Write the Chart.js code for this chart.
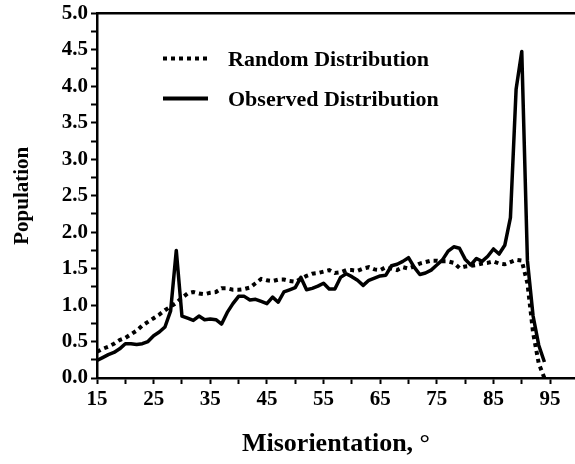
<!DOCTYPE html>
<html>
<head>
<meta charset="utf-8">
<script src="https://cdn.jsdelivr.net/npm/chart.js@4.4.0/dist/chart.umd.min.js"></script>
<style>
  html, body { margin: 0; padding: 0; background: #fff; }
  #wrap { width: 575px; height: 464px; position: relative; }
</style>
</head>
<body>
<div id="wrap"><canvas id="misChart"></canvas></div>
<script>
(function () {
    "use strict";

    // Data (misorientation in degrees, 1 degree bins)
    var angles = [];
    for (var a = 15; a <= 94; a++) angles.push(a);

    var randomDist = [
        0.36, 0.40, 0.43, 0.47, 0.52, 0.55, 0.60, 0.65, 0.72, 0.77,
        0.82, 0.87, 0.93, 0.98, 1.03, 1.10, 1.16, 1.18, 1.16, 1.15,
        1.17, 1.18, 1.23, 1.23, 1.21, 1.21, 1.22, 1.24, 1.30, 1.36,
        1.34, 1.33, 1.35, 1.35, 1.33, 1.32, 1.36, 1.40, 1.43, 1.44,
        1.46, 1.48, 1.44, 1.45, 1.48, 1.48, 1.47, 1.50, 1.52, 1.49,
        1.48, 1.52, 1.50, 1.48, 1.52, 1.50, 1.53, 1.57, 1.59, 1.61,
        1.61, 1.60, 1.60, 1.58, 1.51, 1.53, 1.54, 1.55, 1.57, 1.58,
        1.60, 1.57, 1.56, 1.59, 1.62, 1.61, 1.30, 0.62, 0.20, 0.00
    ];

    var observedDist = [
        0.24, 0.28, 0.32, 0.35, 0.40, 0.47, 0.47, 0.46, 0.47, 0.50,
        0.58, 0.63, 0.70, 0.92, 1.75, 0.85, 0.82, 0.79, 0.85, 0.80,
        0.81, 0.80, 0.74, 0.90, 1.02, 1.12, 1.12, 1.07, 1.08, 1.05,
        1.02, 1.11, 1.04, 1.18, 1.21, 1.24, 1.38, 1.21, 1.23, 1.26,
        1.30, 1.22, 1.22, 1.38, 1.43, 1.39, 1.34, 1.27, 1.34, 1.37,
        1.40, 1.41, 1.54, 1.56, 1.60, 1.65, 1.52, 1.42, 1.44, 1.48,
        1.55, 1.62, 1.74, 1.80, 1.78, 1.63, 1.55, 1.64, 1.60, 1.67,
        1.77, 1.70, 1.82, 2.20, 3.96, 4.48, 1.61, 0.85, 0.45, 0.22
    ];

    var seriesNames = ['Random Distribution', 'Observed Distribution'];
    var xTickLabels = [15, 25, 35, 45, 55, 65, 75, 85, 95];
    var yTickLabels = [0.0, 0.5, 1.0, 1.5, 2.0, 2.5, 3.0, 3.5, 4.0, 4.5, 5.0];

    var FONT = "'Liberation Serif', 'DejaVu Serif', serif";

    function toPoints(values) {
        return values.map(function (v, i) { return { x: angles[i], y: v }; });
    }

    // legend drawn inside the plot, like the original figure
    var insideLegend = {
        id: 'insideLegend',
        afterDraw: function (chart) {
            var ctx = chart.ctx, area = chart.chartArea;
            var x0 = area.left + 66, x1 = area.left + 111, tx = area.left + 131;
            var rows = [area.top + 45, area.top + 85];
            ctx.save();
            chart.data.datasets.forEach(function (ds, i) {
                var y = rows[i];
                ctx.beginPath();
                ctx.strokeStyle = ds.borderColor;
                ctx.lineWidth = 4;
                ctx.lineCap = 'butt';
                ctx.setLineDash(ds.borderDash || []);
                ctx.moveTo(x0, y);
                ctx.lineTo(x1, y);
                ctx.stroke();
                ctx.setLineDash([]);
                ctx.fillStyle = '#000';
                ctx.font = 'bold 22px ' + FONT;
                ctx.textBaseline = 'middle';
                ctx.fillText(ds.label, tx, y + 2);
            });
            ctx.restore();
        }
    };

    var ctx = document.getElementById('misChart').getContext('2d');
    var misChart = new Chart(ctx, {
        type: 'line',
        data: {
            datasets: [{
                label: seriesNames[0],
                data: toPoints(randomDist),
                borderColor: '#000',
                borderWidth: 4,
                borderDash: [4, 4],
                borderCapStyle: 'butt',
                pointRadius: 0,
                tension: 0
            }, {
                label: seriesNames[1],
                data: toPoints(observedDist),
                borderColor: '#000',
                borderWidth: 3.5,
                borderJoinStyle: 'round',
                pointRadius: 0,
                tension: 0
            }]
        },
        options: {
            responsive: true,
            maintainAspectRatio: false,
            animation: false,
            layout: { padding: { top: 12, right: 0, bottom: 0, left: 0 } },
            plugins: {
                legend: { display: false },
                tooltip: { enabled: false }
            },
            scales: {
                x: {
                    type: 'linear',
                    position: 'bottom',
                    min: 15,
                    max: 99.4,
                    afterBuildTicks: function (scale) {
                        var t = [];
                        for (var v = xTickLabels[0]; v <= xTickLabels[xTickLabels.length - 1]; v += 5) t.push({ value: v });
                        scale.ticks = t;
                    },
                    afterFit: function (scale) { scale.height = 86; },
                    grid: { drawOnChartArea: false, tickLength: 6, tickWidth: 2, tickColor: '#000' },
                    border: { color: '#000', width: 2.5 },
                    ticks: {
                        padding: 3,
                        color: '#000',
                        maxRotation: 0,
                        autoSkip: false,
                        font: { family: FONT, size: 21, weight: 'bold' },
                        callback: function (v) { return xTickLabels.indexOf(v) >= 0 ? String(v) : ''; }
                    },
                    title: {
                        display: true,
                        text: 'Misorientation, \u00b0',
                        color: '#000',
                        padding: { top: 4, bottom: 4 },
                        font: { family: FONT, size: 26, weight: 'bold' }
                    }
                },
                xTop: {
                    type: 'linear',
                    position: 'top',
                    min: 15,
                    max: 99.4,
                    afterFit: function (scale) { scale.height = 0; },
                    grid: { display: false },
                    border: { color: '#000', width: 2.5 },
                    ticks: { display: false }
                },
                y: {
                    min: 0,
                    max: 5,
                    afterBuildTicks: function (scale) {
                        var t = [];
                        for (var v = 0; v <= 5.0001; v += 0.25) t.push({ value: Math.round(v * 100) / 100 });
                        scale.ticks = t;
                    },
                    afterFit: function (scale) { scale.width = 97; },
                    grid: { drawOnChartArea: false, tickLength: 6, tickWidth: 2, tickColor: '#000' },
                    border: { color: '#000', width: 2.5 },
                    ticks: {
                        padding: 3,
                        color: '#000',
                        autoSkip: false,
                        font: { family: FONT, size: 21, weight: 'bold', lineHeight: 1 },
                        callback: function (v) {
                            return yTickLabels.indexOf(v) >= 0 ? v.toFixed(1) : '';
                        }
                    },
                    title: {
                        display: true,
                        text: 'Population',
                        color: '#000',
                        padding: { top: 10, bottom: 0 },
                        font: { family: FONT, size: 21, weight: 'bold' }
                    }
                }
            }
        },
        plugins: [insideLegend]
    });
})();
</script>
</body>
</html>
